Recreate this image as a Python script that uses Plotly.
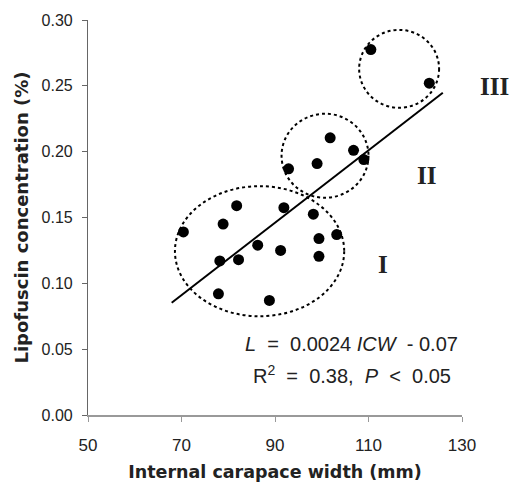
import plotly.graph_objects as go

# Data
icw = [70.4, 78.9, 81.8, 78.2, 82.2, 86.3, 77.9, 88.8, 91.2, 91.9, 98.2, 103.2, 99.4, 99.4,
       92.9, 99.0, 101.8, 106.8, 109.0, 110.5, 123.0]
lipofuscin = [0.139, 0.145, 0.159, 0.117, 0.118, 0.129, 0.092, 0.087, 0.125, 0.1575, 0.1525,
              0.137, 0.134, 0.1205, 0.187, 0.191, 0.2105, 0.201, 0.194, 0.2775, 0.252]

fit_slope = 0.00275
fit_intercept = -0.1015
fit_x_range = [67.9, 125.9]

x_range = [50, 130]
x_ticks = [50, 70, 90, 110, 130]
y_ticks = [0.00, 0.05, 0.10, 0.15, 0.20, 0.25, 0.30]

# group ellipses: (x0, x1, y0, y1)
groups = {
    "I": (68.6, 104.8, 0.075, 0.1738),
    "II": (91.4, 110.0, 0.165, 0.2288),
    "III": (108.0, 125.1, 0.2333, 0.2925),
}
group_labels = ["I", "II", "III"]
group_label_x = [113.2, 122.4, 137.0]
group_label_y = [0.114, 0.182, 0.2495]

fit_y = [fit_slope * x + fit_intercept for x in fit_x_range]

fig = go.Figure()
fig.add_trace(go.Scatter(x=fit_x_range, y=fit_y, mode="lines",
                         line=dict(color="black", width=2), showlegend=False,
                         hoverinfo="skip"))
fig.add_trace(go.Scatter(x=icw, y=lipofuscin, mode="markers",
                         marker=dict(color="black", size=11), showlegend=False))

for name, (x0, x1, y0, y1) in groups.items():
    fig.add_shape(type="circle", xref="x", yref="y", x0=x0, x1=x1, y0=y0, y1=y1,
                  line=dict(color="black", width=2, dash="dot"), layer="above")

for lab, lx, ly in zip(group_labels, group_label_x, group_label_y):
    # paper x so labels beyond the axis range are still drawn
    px = (lx - x_range[0]) / (x_range[1] - x_range[0])
    fig.add_annotation(x=px, xref="paper", y=ly, yref="y", text="<b>" + lab + "</b>",
                       showarrow=False,
                       font=dict(family="Liberation Serif", size=25, color="#222"),
                       xanchor="center", yanchor="middle")

fig.add_annotation(x=106.4, y=0.0538, text="<i>L</i>  =  0.0024 <i>ICW</i>  - 0.07",
                   showarrow=False, font=dict(family="Liberation Sans", size=20, color="#222"))
fig.add_annotation(x=106.4, y=0.0305, text="R<sup>2</sup>  =  0.38,  <i>P</i>  &lt;  0.05",
                   showarrow=False, font=dict(family="Liberation Sans", size=20, color="#222"))

fig.update_layout(
    width=511, height=496,
    margin=dict(l=88, r=49, t=15, b=81),
    paper_bgcolor="white", plot_bgcolor="white",
    font=dict(family="Liberation Sans", color="#222"),
)
fig.update_xaxes(range=x_range, tickvals=x_ticks, showgrid=False, zeroline=False,
                 showline=True, linecolor="#999", linewidth=1.5,
                 ticks="outside", ticklen=5, tickcolor="#999",
                 tickfont=dict(size=17, color="#222"), ticklabelstandoff=9,
                 title=dict(text="<b>Internal carapace width (mm)</b>",
                            font=dict(family="DejaVu Sans", size=17.5, color="#222"),
                            standoff=12))
fig.update_yaxes(range=[0, 0.30], tickvals=y_ticks, tickformat=".2f", showgrid=False,
                 zeroline=False, showline=True, linecolor="#666", linewidth=1.2,
                 ticks="outside", ticklen=5, tickcolor="#666",
                 tickfont=dict(size=16, color="#222"), ticklabelstandoff=6,
                 title=dict(text="<b>Lipofuscin concentration (%)</b>",
                            font=dict(family="DejaVu Sans", size=18, color="#222"),
                            standoff=8))

fig.write_html("out.html")
